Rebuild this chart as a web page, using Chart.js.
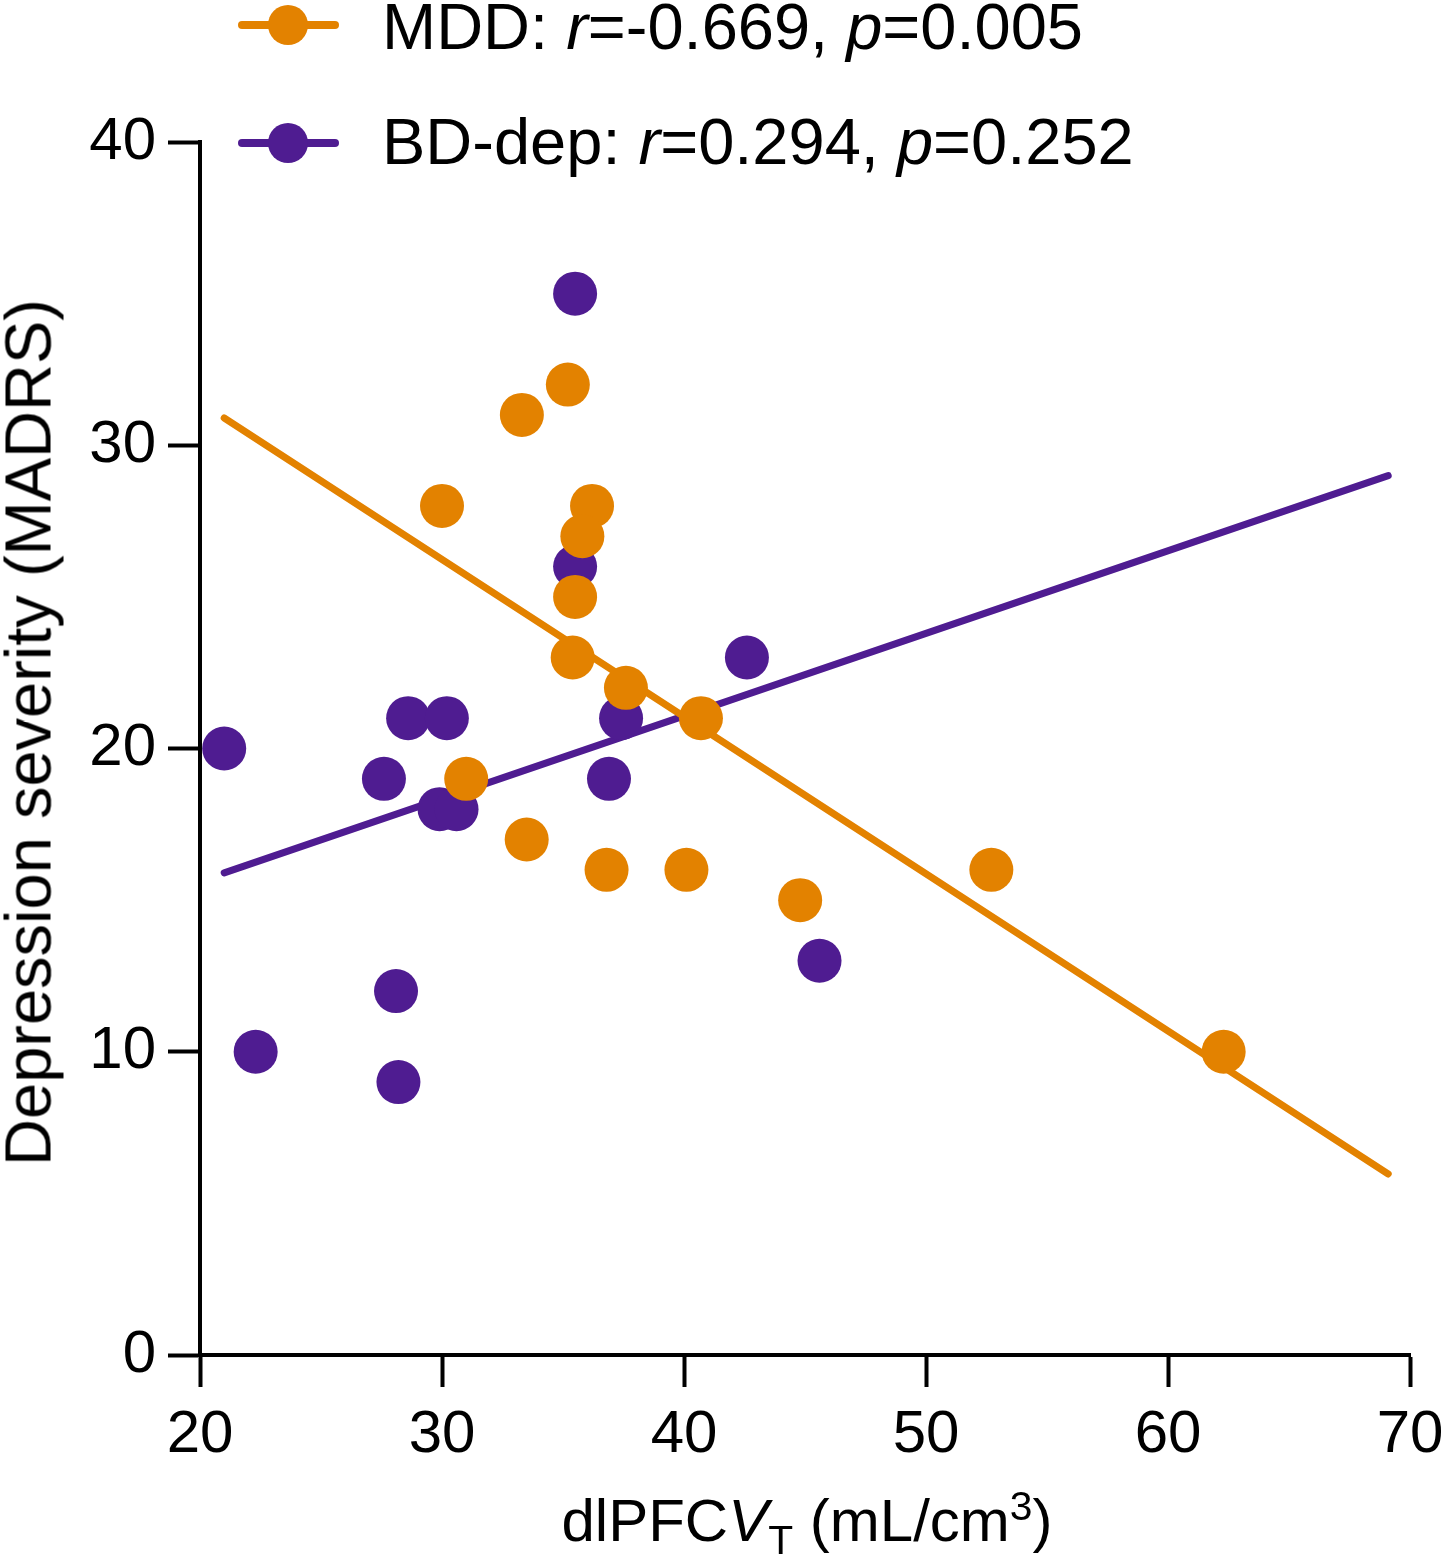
<!DOCTYPE html>
<html>
<head>
<meta charset="utf-8">
<script src="https://cdn.jsdelivr.net/npm/chart.js@4.4.1/dist/chart.umd.min.js"></script>
<style>
  html, body { margin: 0; padding: 0; background: #fff; }
  #wrap { position: relative; width: 1444px; height: 1567px; overflow: hidden; font-family: "Liberation Sans", Arial, sans-serif; color: #000; }
  #chart { position: absolute; left: 0; top: 0; }
  .leg { position: absolute; left: 382px; font-size: 65px; line-height: 65px; white-space: nowrap; }
  .mark { position: absolute; left: 238px; width: 102px; height: 48px; }
  #xtitle { position: absolute; left: 0; width: 1614px; text-align: center; top: 1491px; font-size: 60px; line-height: 60px; white-space: nowrap; }
  #ytitle { position: absolute; left: -472.5px; top: 699.5px; width: 1000px; height: 65px; text-align: center; font-size: 65px; line-height: 65px; white-space: nowrap; transform: rotate(-90deg); transform-origin: 50% 50%; }
  sub, sup { font-size: 0.68em; line-height: 0; }
</style>
</head>
<body>
<div id="wrap">
  <canvas id="chart" width="1444" height="1567"></canvas>
  <svg class="mark" style="top:1px" viewBox="0 0 102 48"><line x1="4" y1="24" x2="97" y2="24" stroke="#E38200" stroke-width="8" stroke-linecap="round"/><circle cx="50" cy="24" r="20" fill="#E38200"/></svg>
  <div class="leg" style="top:-6px">MDD: <i>r</i>=-0.669, <i>p</i>=0.005</div>
  <svg class="mark" style="top:119px" viewBox="0 0 102 48"><line x1="4" y1="24" x2="97" y2="24" stroke="#4F1C91" stroke-width="8" stroke-linecap="round"/><circle cx="50" cy="24" r="20" fill="#4F1C91"/></svg>
  <div class="leg" style="top:109px">BD-dep: <i>r</i>=0.294, <i>p</i>=0.252</div>
  <div id="xtitle">dlPFC<i>V</i><sub>T</sub> (mL/cm<sup>3</sup>)</div>
  <div id="ytitle">Depression severity (MADRS)</div>
</div>
<script>
// ---- data ----
const mddX = [30.0, 33.3, 35.2, 36.2, 35.8, 35.5, 35.4, 37.6, 40.7, 31.0, 33.5, 36.8, 40.1, 44.8, 52.7, 62.3];
const mddY = [28, 31, 32, 28, 27, 25, 23, 22, 21, 19, 17, 16, 16, 15, 16, 10];
const bdX  = [35.5, 35.5, 42.6, 21.0, 28.6, 30.2, 37.4, 27.6, 36.9, 29.9, 30.6, 28.1, 22.3, 28.2, 45.6];
const bdY  = [35, 26, 23, 20, 21, 21, 21, 19, 19, 18, 18, 12, 10, 9, 13];
const mddFitX = [21.0, 69.1];
const mddFitY = [30.9, 5.97];
const bdFitX  = [21.0, 69.1];
const bdFitY  = [15.9, 29.0];
const xTicks = [20, 30, 40, 50, 60, 70];
const yTicks = [0, 10, 20, 30, 40];
const seriesNames = ['MDD', 'BD-dep'];

const ORANGE = '#E38200';
const PURPLE = '#4F1C91';
const FONT = '"Liberation Sans", Arial, sans-serif';

const pts = (xs, ys) => xs.map((x, i) => ({ x: x, y: ys[i] }));

new Chart(document.getElementById('chart'), {
  type: 'scatter',
  data: {
    datasets: [
      { label: seriesNames[0], data: pts(mddX, mddY), backgroundColor: ORANGE, borderWidth: 0, pointRadius: 22, pointHoverRadius: 22, clip: false },
      { type: 'line', label: seriesNames[0] + ' fit', data: pts(mddFitX, mddFitY), borderColor: ORANGE, borderWidth: 7, borderCapStyle: 'round', pointRadius: 0, fill: false, tension: 0, clip: false },
      { label: seriesNames[1], data: pts(bdX, bdY), backgroundColor: PURPLE, borderWidth: 0, pointRadius: 22, pointHoverRadius: 22, clip: false },
      { type: 'line', label: seriesNames[1] + ' fit', data: pts(bdFitX, bdFitY), borderColor: PURPLE, borderWidth: 7, borderCapStyle: 'round', pointRadius: 0, fill: false, tension: 0, clip: false }
    ]
  },
  options: {
    responsive: false,
    animation: false,
    events: [],
    layout: { padding: { top: 142, right: 34, left: 0, bottom: 0 } },
    plugins: { legend: { display: false }, tooltip: { enabled: false } },
    scales: {
      x: {
        type: 'linear', min: 20, max: 70,
        afterBuildTicks: (s) => { s.ticks = xTicks.map(v => ({ value: v })); },
        afterFit: (s) => { s.height = 212; s.paddingLeft = 0; s.paddingRight = 0; },
        ticks: { color: '#000', font: { family: FONT, size: 60 }, padding: 12, maxRotation: 0 },
        grid: { display: true, drawOnChartArea: false, drawTicks: true, tickLength: 32, tickWidth: 4, tickColor: '#000' },
        border: { display: true, color: '#000', width: 4 }
      },
      y: {
        type: 'linear', min: 0, max: 40,
        afterBuildTicks: (s) => { s.ticks = yTicks.map(v => ({ value: v })); },
        afterFit: (s) => { s.width = 200; s.paddingTop = 0; s.paddingBottom = 0; },
        ticks: { color: '#000', font: { family: FONT, size: 60 }, padding: 12 },
        grid: { display: true, drawOnChartArea: false, drawTicks: true, tickLength: 32, tickWidth: 4, tickColor: '#000' },
        border: { display: true, color: '#000', width: 4 }
      }
    }
  }
});
</script>
</body>
</html>
